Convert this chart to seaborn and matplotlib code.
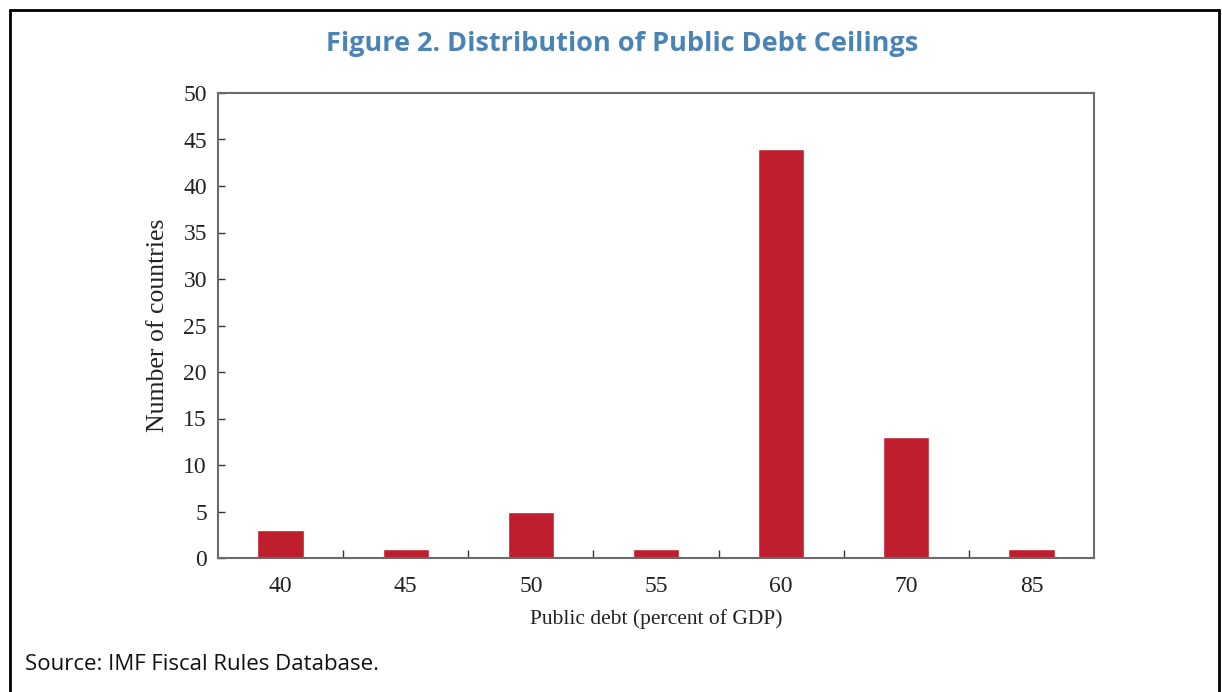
import matplotlib
matplotlib.use("Agg")
import matplotlib.pyplot as plt
import seaborn as sns
import pandas as pd
from matplotlib.lines import Line2D

# data
ceilings = ["40", "45", "50", "55", "60", "70", "85"]
countries = [3, 1, 5, 1, 44, 13, 1]

title = "Figure 2. Distribution of Public Debt Ceilings"
source = "Source: IMF Fiscal Rules Database."

df = pd.DataFrame({"ceiling": ceilings, "countries": countries})

sns.set_theme(style="white")
plt.rcParams["font.family"] = ["Liberation Serif", "DejaVu Serif"]

fig = plt.figure(figsize=(12.22, 6.92), dpi=100)
ax = fig.add_axes([218 / 1222, 1 - 558 / 692, 876 / 1222, 465 / 692])

sns.barplot(data=df, x="ceiling", y="countries", color="#BE1E2D",
            width=0.37, saturation=1, ax=ax)

ax.set_xlim(-0.5, len(ceilings) - 0.5)
ax.set_ylim(0, 50)
ax.set_yticks(range(0, 51, 5))
ax.tick_params(axis="y", direction="in", length=5, width=1, color="#333333",
               labelsize=17, pad=8, left=True)
ax.tick_params(axis="x", which="major", length=0, labelsize=17, pad=13)
ax.set_xticks([i + 0.5 for i in range(len(ceilings) - 1)], minor=True)
ax.tick_params(axis="x", which="minor", direction="in", length=6, width=1,
               color="#333333", bottom=True)
for s in ax.spines.values():
    s.set_color("#6b6b6b")
    s.set_linewidth(1.5)

ax.set_xlabel("Public debt (percent of GDP)", fontsize=15.5, labelpad=9, color="#222222")
ax.set_ylabel("Number of countries", fontsize=18.5, labelpad=10, color="#222222")
for lab in ax.get_xticklabels() + ax.get_yticklabels():
    lab.set_color("#222222")

fig.text(0.509, 1 - 44 / 692, title, ha="center", va="center", fontsize=19.5,
         fontweight="bold", color="#4A84B5", family=["Open Sans", "DejaVu Sans"])
fig.text(25 / 1222, 1 - 664 / 692, source, ha="left", va="center", fontsize=16,
         color="#111111", family=["Open Sans", "DejaVu Sans"])

# open-bottom frame around the figure
frame_kw = dict(transform=fig.transFigure, color="black", linewidth=2)
x0, x1, y1 = 10 / 1222, 1219 / 1222, 1 - 10 / 692
fig.add_artist(Line2D([x0, x0], [0, y1], **frame_kw))
fig.add_artist(Line2D([x0, x1], [y1, y1], **frame_kw))
fig.add_artist(Line2D([x1, x1], [0, y1], **frame_kw))

fig.savefig("out.png", dpi=100)
